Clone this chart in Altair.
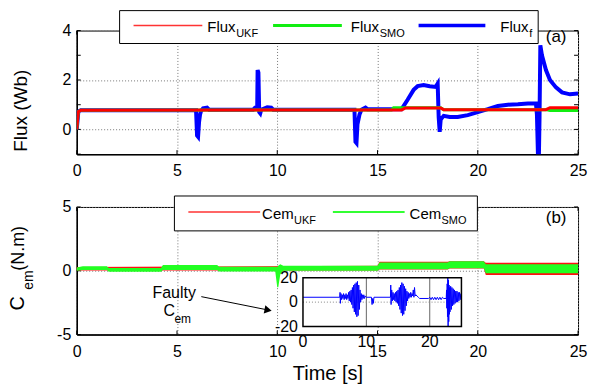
import altair as alt
import pandas as pd

FONT = "Liberation Sans"

# ---------------- data ----------------
# panel (a): flux estimates
t_ukf = [0, 0.08, 0.2, 16.2, 16.4, 18.15, 18.3, 23.4, 23.6, 25]
flux_ukf = [0, 0.72, 0.78, 0.79, 0.87, 0.87, 0.80, 0.80, 0.88, 0.88]
t_smo = [0, 0.08, 0.2, 15.7, 15.8, 18.15, 18.3, 23.4, 23.6, 25]
flux_smo = [0, 0.72, 0.78, 0.79, 0.88, 0.88, 0.80, 0.80, 0.77, 0.77]
t_f = [
    0, 0.08, 0.2, 5.95, 6.0, 6.05, 6.1, 6.15, 6.2, 6.3,
    6.5, 6.6, 8.8, 8.9, 9.0, 9.02, 9.06, 9.1, 9.15, 9.2,
    9.5, 9.7, 9.8, 13.85, 13.9, 13.95, 14.0, 14.1, 14.2, 14.4,
    14.5, 16.2, 16.5, 16.8, 17.0, 17.3, 17.6, 17.9, 18.0, 18.05,
    18.1, 18.15, 18.3, 18.6, 19.0, 19.5, 20.0, 20.5, 21.0, 21.5,
    22.0, 22.5, 22.9, 22.95, 23.0, 23.05, 23.08, 23.12, 23.2, 23.4,
    23.6, 23.9, 24.2, 24.6, 25.0,
]
flux_f = [
    0, 0.72, 0.78, 0.78, -0.25, -0.3, 0.3, 0.6, 0.75, 0.85,
    0.88, 0.8, 0.8, 0.88, 0.9, 2.4, 2.3, 0.7, 0.65, 0.8,
    0.9, 0.88, 0.8, 0.8, -0.5, -0.55, 0.2, 0.6, 0.8, 0.88,
    0.82, 0.82, 1.2, 1.6, 1.75, 1.8, 1.75, 1.72, 1.85, 0.5,
    -0.1, 0.4, 0.55, 0.5, 0.5, 0.58, 0.7, 0.82, 0.95, 1.0,
    1.02, 1.05, 1.05, 0.6, -1.0, -1.0, 0.5, 3.4, 3.0, 2.4,
    2.0, 1.7, 1.5, 1.42, 1.45,
]

# panel (b): torque estimates (noise band limits)
t_band_smo = [0, 0.3, 1.5, 1.6, 4.2, 4.3, 7.0, 7.1, 9.9, 10.0,
              10.05, 10.15, 10.3, 15.0, 15.1, 18.5, 18.6, 20.3, 20.4, 25]
smo_lo = [0.0, 0.05, 0.05, -0.08, -0.08, 0.05, 0.05, -0.05, -0.05, -1.3,
          -1.3, -0.3, 0.0, 0.0, 0.12, 0.12, 0.2, 0.2, -0.2, -0.2]
smo_hi = [0.25, 0.35, 0.35, 0.22, 0.22, 0.45, 0.45, 0.32, 0.32, 0.3,
          0.4, 0.5, 0.4, 0.4, 0.65, 0.65, 0.75, 0.75, 0.5, 0.5]
t_band_ukf = [0, 15.0, 15.1, 18.5, 18.6, 20.3, 20.4, 25]
ukf_lo = [0.02, 0.02, 0.1, 0.1, 0.18, 0.18, -0.34, -0.34]
ukf_hi = [0.3, 0.4, 0.7, 0.7, 0.75, 0.75, 0.62, 0.62]

# inset: faulty Cem
t_inset = [
    0, 5.8, 5.85, 5.9, 6.0, 6.1, 6.2, 6.3, 6.4, 6.5,
    6.6, 6.7, 6.8, 6.9, 7.0, 7.1, 7.2, 7.3, 7.4, 7.5,
    7.6, 7.7, 7.8, 7.9, 8.0, 8.1, 8.2, 8.3, 8.4, 8.5,
    8.6, 8.7, 8.8, 8.9, 9.0, 9.1, 9.2, 9.3, 9.4, 9.5,
    9.6, 9.7, 9.8, 10.0, 10.8, 10.9, 11.0, 11.1, 11.2, 13.8,
    13.85, 13.9, 14.0, 14.1, 14.2, 14.3, 14.4, 14.5, 14.6, 14.7,
    14.8, 14.9, 15.0, 15.1, 15.2, 15.3, 15.4, 15.5, 15.6, 15.7,
    15.8, 15.9, 16.0, 16.1, 16.2, 16.3, 16.4, 16.5, 16.6, 16.7,
    16.8, 16.9, 17.0, 17.1, 17.2, 17.3, 17.4, 17.5, 17.6, 17.7,
    17.8, 18.0, 18.2, 18.4, 19.8, 20.0, 20.2, 20.4, 20.6, 20.8,
    21.0, 21.2, 21.4, 21.6, 21.8, 22.0, 22.2, 22.6, 22.65, 22.7,
    22.75, 22.8, 22.85, 22.9, 22.95, 23.0, 23.05, 23.1, 23.15, 23.2,
    23.3, 23.4, 23.5, 23.6, 23.7, 23.8, 23.9, 24.0, 24.1, 24.2,
    24.3, 24.4, 24.5, 24.6, 24.7, 24.8, 24.9,
]
cem_inset = [
    4, 4, 8, -1, 7, 2, 6, 3, 7, 2,
    6, 3, 7, 2, 6, 3, 8, 1, 9, 0,
    10, -2, 12, -5, 14, -8, 15, -10, 16, -12,
    17, -11, 14, -6, 10, 0, 7, 2, 6, 3,
    6, 3, 5, 4, 4, -2, 3, -1, 4, 4,
    14, -2, 10, 1, 8, 2, 7, 1, 8, 0,
    9, -1, 10, -3, 12, -6, 14, -9, 16, -11,
    15, -10, 13, -7, 11, -3, 9, 1, 8, 3,
    7, 4, 8, 4, 7, 5, 10, 4, 12, 5,
    6, 5, 4, 3, 3, 4, 2, 4, 2, 4,
    2, 4, 2, 4, 2, 4, 3, 3, 10, -5,
    15, -12, 20, -20, 18, -16, 14, -10, 12, -8,
    13, -6, 12, -3, 11, -2, 10, -1, 9, 0,
    9, 0, 8, 1, 8, 2, 7,
]

x_ticks = [0, 5, 10, 15, 20, 25]
flux_ticks = [-1, 0, 1, 2, 3, 4]
flux_labels = [0, 2, 4]
cem_ticks = [-5, 0, 5]
inset_x_ticks = [0, 10, 20]
inset_y_ticks = [-20, 0, 20]
inset_grid_x = [10, 20]
inset_grid_y = [0]

# ---------------- helpers ----------------
W = 503
H_TOP = 124
H_BOT = 128
TICK = 4
dummy = pd.DataFrame({"a": [0]})


def label(s, x, y, size, align="left", baseline="alphabetic", angle=0):
    return alt.Chart(dummy).mark_text(
        text=s, fontSize=size, align=align, baseline=baseline, angle=angle,
        color="black", font=FONT
    ).encode(x=alt.value(x), y=alt.value(y))


def hline(x1, x2, y, color, width):
    return alt.Chart(dummy).mark_rule(color=color, strokeWidth=width).encode(
        x=alt.value(x1), x2=alt.value(x2), y=alt.value(y))


def box(x1, x2, y1, y2):
    return alt.Chart(dummy).mark_rect(fill="white", stroke="black", strokeWidth=1).encode(
        x=alt.value(x1), x2=alt.value(x2), y=alt.value(y1), y2=alt.value(y2))


def inward_ticks(xenc_field, xs, yenc_field, ys, h, w):
    """MATLAB-style inward tick marks on all four sides, drawn through the panel scales."""
    dfx = pd.DataFrame({xenc_field.shorthand.split(":")[0]: xs})
    dfy = pd.DataFrame({yenc_field.shorthand.split(":")[0]: ys})
    layers = []
    for y1, y2 in ((h, h - TICK), (0, TICK)):
        layers.append(alt.Chart(dfx).mark_rule(color="black", strokeWidth=1).encode(
            x=xenc_field, y=alt.value(y1), y2=alt.value(y2)))
    for x1, x2 in ((0, TICK), (w, w - TICK)):
        layers.append(alt.Chart(dfy).mark_rule(color="black", strokeWidth=1).encode(
            y=yenc_field, x=alt.value(x1), x2=alt.value(x2)))
    return layers


# invisible rectangle spanning the whole 590x387 picture (fixes the page origin)
canvas = alt.Chart(dummy).mark_rect(opacity=0).encode(
    x=alt.value(-76), x2=alt.value(514), y=alt.value(-29), y2=alt.value(358))

common_axis = dict(
    labelFontSize=16, labelFont=FONT, labelColor="black", labelFlush=False,
    ticks=False, domainColor="black", domainWidth=1.5,
    grid=True, gridDash=[1, 2], gridColor="#777777", gridWidth=1,
    labelExpr="'' + datum.value",
)

x_scale = alt.Scale(domain=[0, 25], nice=False, zero=False)

# ---------------- panel (a) ----------------
xa = alt.X("t:Q", scale=x_scale, axis=alt.Axis(values=x_ticks, title=None, labelPadding=8, **common_axis))
ya = alt.Y("v:Q", scale=alt.Scale(domain=[-1, 4], nice=False, zero=False),
           axis=alt.Axis(values=flux_labels, title="Flux (Wb)", labelPadding=6,
                         titleFontSize=19, titleFont=FONT, titleFontWeight="normal",
                         titleColor="black", titleAngle=270, titleAlign="center",
                         titleBaseline="middle", titleX=-56, titleY=80, **common_axis))

df_f = pd.DataFrame({"t": t_f, "v": flux_f})
df_smo = pd.DataFrame({"t": t_smo, "v": flux_smo})
df_ukf = pd.DataFrame({"t": t_ukf, "v": flux_ukf})

line_f = alt.Chart(df_f).mark_line(color="#0000ff", strokeWidth=4, clip=True).encode(x=xa, y=ya)
line_smo = alt.Chart(df_smo).mark_line(color="#11ee11", strokeWidth=3, clip=True).encode(x=xa, y=ya)
line_ukf = alt.Chart(df_ukf).mark_line(color="#ff0000", strokeWidth=3, clip=True).encode(x=xa, y=ya)

top = alt.layer(
    canvas,
    *inward_ticks(xa, x_ticks, ya, flux_ticks, H_TOP, W),
    line_f, line_smo, line_ukf,
    box(43, 463, -20, 13),
    hline(57, 126, -5, "#ff3333", 1.5),
    label("Flux", 131, 1, 15), label("UKF", 160, 6, 11),
    hline(197, 266, -5, "#11ee11", 3),
    label("Flux", 275, 1, 15), label("SMO", 304, 6, 11),
    hline(343, 410, -5, "#0000ff", 3.5),
    label("Flux", 425, 1, 15), label("f", 454, 6, 11),
    label("(a)", 481, 6, 17, align="center", baseline="middle"),
).properties(width=W, height=H_TOP)

# ---------------- panel (b) ----------------
xb = alt.X("t:Q", scale=x_scale,
           axis=alt.Axis(values=x_ticks, title="Time [s]", labelPadding=9,
                         titleFontSize=20, titleFont=FONT, titleFontWeight="normal",
                         titleColor="black", titlePadding=4, **common_axis))
yb_scale = alt.Scale(domain=[-5, 5], nice=False, zero=False)
yb = alt.Y("lo:Q", scale=yb_scale, axis=alt.Axis(values=cem_ticks, title=None, labelPadding=6, **common_axis))
yb2 = alt.Y2("hi:Q")

df_bsmo = pd.DataFrame({"t": t_band_smo, "lo": smo_lo, "hi": smo_hi})
df_bukf = pd.DataFrame({"t": t_band_ukf, "lo": ukf_lo, "hi": ukf_hi})

band_ukf = alt.Chart(df_bukf).mark_area(color="#ff1111", opacity=1).encode(x=xb, y=yb, y2=yb2)
band_smo = alt.Chart(df_bsmo).mark_area(color="#22ff22", opacity=1).encode(x=xb, y=yb, y2=yb2)

arrow_line = alt.Chart(dummy).mark_rule(color="black", strokeWidth=1).encode(
    x=alt.value(125), y=alt.value(90), x2=alt.value(190), y2=alt.value(103))
arrow_head = alt.Chart(dummy).mark_point(shape="triangle-right", filled=True, size=70,
                                         angle=11, color="black", opacity=1).encode(
    x=alt.value(192), y=alt.value(103.5))

bottom_main = alt.layer(
    *inward_ticks(xb, x_ticks, yb, cem_ticks, H_BOT, W),
    band_ukf, band_smo,
    box(98, 402, -11, 24),
    hline(112, 184, 5, "#ff3333", 1.5),
    label("Cem", 186, 12, 15), label("UKF", 218, 17, 11),
    hline(257, 329, 5, "#33ff33", 2),
    label("Cem", 334, 12, 15), label("SMO", 366, 17, 11),
    label("(b)", 481, 11, 17, align="center", baseline="middle"),
    label("Faulty", 76, 91, 16),
    label("C", 87, 109, 16), label("em", 98, 116, 12),
    arrow_line, arrow_head,
    label("C", -53, 104, 20, angle=270),
    label("em", -44, 83, 14, angle=270),
    label("(N.m)", -53, 64, 18, angle=270),
)

# inset
ix_scale = alt.Scale(domain=[0, 25], range=[227, 386], nice=False, zero=False)
iy_scale = alt.Scale(domain=[-20, 20], range=[120, 71], nice=False, zero=False)

df_frame = pd.DataFrame({"x0": [inset_x_ticks[0]], "x1": [25], "y0": [inset_y_ticks[0]], "y1": [inset_y_ticks[-1]]})
frame_fill = alt.Chart(df_frame).mark_rect(fill="white").encode(
    x=alt.X("x0:Q", scale=ix_scale, axis=None), x2="x1:Q",
    y=alt.Y("y0:Q", scale=iy_scale, axis=None), y2="y1:Q")
frame_stroke = alt.Chart(df_frame).mark_rect(fill=None, stroke="black", strokeWidth=1.5).encode(
    x=alt.X("x0:Q", scale=ix_scale, axis=None), x2="x1:Q",
    y=alt.Y("y0:Q", scale=iy_scale, axis=None), y2="y1:Q")

df_gx = pd.DataFrame({"x0": inset_grid_x, "y0": [-20] * len(inset_grid_x), "y1": [20] * len(inset_grid_x)})
grid_x = alt.Chart(df_gx).mark_rule(color="#666666", strokeWidth=1).encode(
    x=alt.X("x0:Q", scale=ix_scale, axis=None),
    y=alt.Y("y0:Q", scale=iy_scale, axis=None), y2="y1:Q")
df_gy = pd.DataFrame({"y0": inset_grid_y, "x0": [0], "x1": [25]})
grid_y = alt.Chart(df_gy).mark_rule(color="#888888", strokeWidth=1, strokeDash=[1, 2]).encode(
    y=alt.Y("y0:Q", scale=iy_scale, axis=None),
    x=alt.X("x0:Q", scale=ix_scale, axis=None), x2="x1:Q")

df_in = pd.DataFrame({"x0": t_inset, "y0": cem_inset})
inset_line = alt.Chart(df_in).mark_line(color="#0000ff", strokeWidth=1).encode(
    x=alt.X("x0:Q", scale=ix_scale, axis=None),
    y=alt.Y("y0:Q", scale=iy_scale, axis=None))

df_ixl = pd.DataFrame({"x0": inset_x_ticks, "s": [str(v) for v in inset_x_ticks]})
inset_xlab = alt.Chart(df_ixl).mark_text(fontSize=16, font=FONT, color="black", baseline="middle").encode(
    x=alt.X("x0:Q", scale=ix_scale, axis=None), y=alt.value(136), text="s:N")
df_iyl = pd.DataFrame({"y0": inset_y_ticks, "s": [str(v) for v in inset_y_ticks]})
inset_ylab = alt.Chart(df_iyl).mark_text(fontSize=16, font=FONT, color="black", baseline="middle", align="right").encode(
    y=alt.Y("y0:Q", scale=iy_scale, axis=None), x=alt.value(222), text="s:N")

bottom_inset = alt.layer(frame_fill, grid_x, grid_y, inset_line, frame_stroke, inset_xlab, inset_ylab)

bottom = alt.layer(bottom_main, bottom_inset).resolve_scale(
    x="independent", y="independent").properties(width=W, height=H_BOT)

chart = alt.vconcat(top, bottom, spacing=53, bounds="flush").properties(
    padding=0,
).configure(font=FONT).configure_view(stroke="black", strokeWidth=1)

chart.save("out.html", embed_options={"renderer": "svg", "actions": False})
